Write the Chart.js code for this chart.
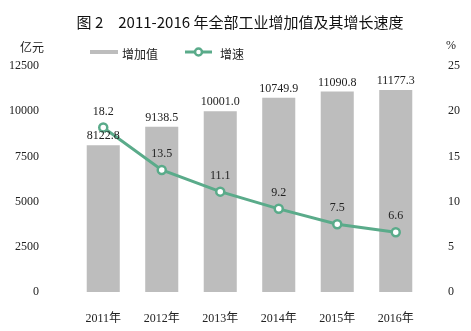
<!DOCTYPE html>
<html><head><meta charset="utf-8">
<script src="https://cdn.jsdelivr.net/npm/chart.js@4"></script>
<style>html,body{margin:0;padding:0;background:#fff;}#wrap{width:471px;height:331px;position:relative;}</style>
</head><body><div id="wrap"><canvas id="c" width="471" height="331"></canvas></div>
<script>
const categories = ['2011年','2012年','2013年','2014年','2015年','2016年'];
const valueAdded = [8122.8, 9138.5, 10001.0, 10749.9, 11090.8, 11177.3];
const valueLabels = ['8122.8','9138.5','10001.0','10749.9','11090.8','11177.3'];
const growthRate = [18.2, 13.5, 11.1, 9.2, 7.5, 6.6];
const growthLabels = ['18.2','13.5','11.1','9.2','7.5','6.6'];
const titleText = '图 2　2011-2016 年全部工业增加值及其增长速度';
const leftUnit = '亿元';
const rightUnit = '%';
const legendBar = '增加值';
const legendLine = '增速';

const BAR = '#bdbdbd', LINE = '#5aab8a';
const SERIF = '"Liberation Serif", "DejaVu Serif", serif';
const CJK = '"Noto Sans CJK SC", sans-serif';
Chart.defaults.font.family = '"Liberation Serif", "Noto Sans CJK SC", serif';
Chart.defaults.font.size = 12;
Chart.defaults.color = '#222';

const decor = {
  id: 'decor',
  afterDatasetsDraw(chart) {
    const ctx = chart.ctx;
    ctx.save();
    ctx.fillStyle = '#222';
    ctx.font = '12px ' + SERIF;
    ctx.textAlign = 'center';
    ctx.textBaseline = 'bottom';
    chart.getDatasetMeta(0).data.forEach((b, i) => {
      ctx.fillText(valueLabels[i], b.x, b.y - 3);
    });
    chart.getDatasetMeta(1).data.forEach((p, i) => {
      ctx.fillText(growthLabels[i], p.x, p.y - 10);
    });
    // title
    ctx.fillStyle = '#111';
    ctx.font = '15px ' + CJK;
    ctx.textBaseline = 'middle';
    ctx.fillText(titleText, 240, 22);
    // units
    ctx.fillStyle = '#222';
    ctx.font = '12px ' + CJK;
    ctx.fillText(leftUnit, 32, 47);
    ctx.font = '12px ' + SERIF;
    ctx.fillText(rightUnit, 451, 46);
    // legend
    ctx.fillStyle = BAR;
    ctx.fillRect(90, 50, 28, 4);
    ctx.fillStyle = '#222';
    ctx.textAlign = 'left';
    ctx.font = '12px ' + CJK;
    ctx.fillText(legendBar, 122, 54);
    ctx.strokeStyle = LINE; ctx.lineWidth = 3;
    ctx.beginPath(); ctx.moveTo(185, 52); ctx.lineTo(212, 52); ctx.stroke();
    ctx.beginPath(); ctx.arc(198.5, 52, 3.5, 0, Math.PI*2);
    ctx.fillStyle = '#fff'; ctx.fill(); ctx.lineWidth = 2.5; ctx.stroke();
    ctx.fillStyle = '#222';
    ctx.fillText(legendLine, 220, 54);
    ctx.restore();
  }
};

new Chart(document.getElementById('c'), {
  data: {
    labels: categories,
    datasets: [
      { type: 'bar', data: valueAdded, backgroundColor: BAR, yAxisID: 'y', order: 2,
        barPercentage: 0.565, categoryPercentage: 1 },
      { type: 'line', data: growthRate, borderColor: LINE, borderWidth: 3, yAxisID: 'y1', order: 1,
        pointRadius: 4, pointBorderWidth: 2.5, pointBackgroundColor: '#fff', pointBorderColor: LINE,
        tension: 0 }
    ]
  },
  options: {
    responsive: false, animation: false,
    layout: { padding: { top: 66, bottom: 0, left: 0, right: 0 } },
    plugins: { legend: { display: false }, title: { display: false }, tooltip: { enabled: false } },
    scales: {
      x: { offset: true, grid: { display: false }, border: { display: false },
        ticks: { color: '#222', padding: 12 },
        afterFit(s) { s.height = 39; } },
      y: { position: 'left', min: 0, max: 12500, grid: { display: false }, border: { display: false },
        ticks: { stepSize: 2500, color: '#222', padding: 27, callback: v => String(v) },
        afterFit(s) { s.width = 74; } },
      y1: { position: 'right', min: 0, max: 25, grid: { display: false }, border: { display: false },
        ticks: { stepSize: 5, color: '#222', padding: 15, callback: v => String(v) },
        afterFit(s) { s.width = 46; } }
    }
  },
  plugins: [decor]
});
</script></body></html>
